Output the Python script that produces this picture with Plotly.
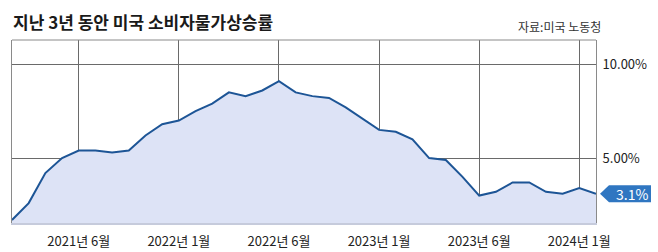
import plotly.graph_objects as go

# Monthly US CPI YoY (%), Feb 2021 .. Jan 2024 (36 points)
cpi = [1.7, 2.6, 4.2, 5.0, 5.4, 5.4, 5.3, 5.4, 6.2, 6.8, 7.0, 7.5,
       7.9, 8.5, 8.3, 8.6, 9.1, 8.5, 8.3, 8.2, 7.7, 7.1, 6.5, 6.4,
       6.0, 5.0, 4.9, 4.0, 3.0, 3.2, 3.7, 3.7, 3.2, 3.1, 3.4, 3.1]
idx = list(range(len(cpi)))

x_tick_pos = [4, 10, 16, 22, 28, 34]
x_tick_labels = ["2021년 6월", "2022년 1월", "2022년 6월", "2023년 1월", "2023년 6월", "2024년 1월"]
y_tick_vals = [5, 10]
y_tick_labels = ["5.00%", "10.00%"]

title_text = "지난 3년 동안 미국 소비자물가상승률"
source_text = "자료:미국 노동청"
last_label = f"{cpi[-1]}%"

Y0, Y1 = 1.54, 11.29
FONT = "Noto Sans CJK KR"

fig = go.Figure()
fig.add_trace(go.Scatter(
    x=idx, y=cpi, mode="lines", fill="tozeroy",
    fillcolor="#dde3f6", line=dict(color="#1d5596", width=2),
    hoverinfo="skip"))

yfrac = (cpi[-1] - Y0) / (Y1 - Y0)

fig.update_layout(
    width=658, height=252,
    margin=dict(l=12, r=62, t=40, b=29),
    paper_bgcolor="white", plot_bgcolor="white",
    showlegend=False,
    font=dict(family=FONT, color="#222", size=13),
    xaxis=dict(range=[0, len(cpi) - 1], tickvals=x_tick_pos, ticktext=x_tick_labels,
               showgrid=True, gridcolor="#6a6a6a", gridwidth=1,
               showline=True, linecolor="#c6cbdc", linewidth=2,
               ticks="", ticklabelstandoff=5, zeroline=False, automargin=False,
               tickfont=dict(family=FONT, size=13, color="#222")),
    yaxis=dict(range=[Y0, Y1], tickvals=y_tick_vals, ticktext=y_tick_labels,
               side="right", showgrid=True, gridcolor="#6a6a6a", gridwidth=1,
               showline=True, mirror=True, linecolor="#8a8a8a", linewidth=1,
               ticks="", ticklabelstandoff=3, zeroline=False, automargin=False,
               tickfont=dict(family=FONT, size=13, color="#222")),
    shapes=[
        dict(type="line", xref="x domain", yref="y domain", x0=0, x1=1, y0=1, y1=1,
             line=dict(color="#8a8a8a", width=1)),
        dict(type="path", xref="paper", yref="paper", xsizemode="pixel", ysizemode="pixel",
             xanchor=1, yanchor=yfrac,
             path="M 4,0 L 13,8.5 L 55,8.5 L 55,-8.5 L 13,-8.5 Z",
             fillcolor="#2f76c1", line=dict(width=0), layer="above"),
    ],
    annotations=[
        dict(text=f"<b>{title_text}</b>", xref="paper", yref="paper", x=0, y=1,
             xanchor="left", yanchor="middle", xshift=-1, yshift=19, showarrow=False,
             font=dict(family=FONT, size=17, color="#1a1a1a")),
        dict(text=source_text, xref="paper", yref="paper", x=1, y=1,
             xanchor="right", yanchor="middle", xshift=7, yshift=14, showarrow=False,
             font=dict(family=FONT, size=12, color="#333")),
        dict(text=last_label, xref="paper", yref="paper", x=1, y=yfrac,
             xanchor="center", yanchor="middle", xshift=36, showarrow=False,
             font=dict(family=FONT, size=14, color="white")),
    ],
)

fig.write_html("out.html")
